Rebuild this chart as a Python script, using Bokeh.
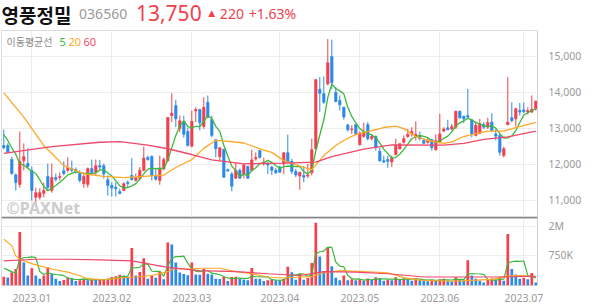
from bokeh.plotting import figure
from bokeh.layouts import column
from bokeh.models import (ColumnDataSource, FixedTicker, NumeralTickFormatter, Range1d,
                          Span, Label)
from bokeh.embed import file_html
from bokeh.resources import INLINE
from bokeh.core.properties import value

# ---------------- data ----------------
stock_name = "영풍정밀"
stock_code = "036560"
last_price = "13,750"
change_txt = "220"
change_pct = "+1.63%"

month_ticks = [7, 27, 47, 69, 89, 109, 130]
month_labels = ["2023.01", "2023.02", "2023.03", "2023.04", "2023.05", "2023.06", "2023.07"]

opens = [12520, 12520, 12130, 11710, 11440, 12100, 12020, 11830, 11080, 11080,
         11190, 11660, 11270, 11630, 11630, 11820, 11830, 11880, 11850, 11740,
         11460, 11440, 11880, 11780, 11960, 11960, 11570, 11410, 11360, 11240,
         11270, 11500, 11690, 11550, 11600, 11830, 12190, 12220, 11680, 11550,
         11870, 12100, 13350, 13630, 12990, 13190, 12910, 12500, 13480, 13520,
         13050, 13720, 13240, 12680, 12210, 12410, 11850, 11730, 11610, 11830,
         11730, 11940, 11830, 12150, 12380, 12010, 12010, 11920, 11830, 11920,
         12010, 12320, 12080, 11800, 11670, 11690, 11670, 11760, 12430, 14080,
         13960, 14230, 14990, 14000, 13770, 13580, 13090, 12960, 13100, 12540,
         12770, 13100, 12710, 12770, 12360, 12100, 12130, 12060, 12270, 12430,
         12610, 12770, 12840, 12770, 12770, 12660, 12610, 12680, 12400, 12610,
         12920, 13010, 12980, 13030, 13470, 13330, 13350, 13230, 12800, 12860,
         13100, 13030, 13170, 12840, 12800, 12240, 13100, 13290, 13260, 13490,
         13510, 13450, 13450, 13540]
highs = [12960, 12580, 12210, 11740, 12910, 12580, 12440, 11940, 11350, 11330,
         11490, 12020, 12020, 11740, 11770, 12080, 12190, 12100, 11910, 11830,
         11740, 11910, 12130, 12130, 12120, 12020, 11690, 11500, 11500, 11320,
         11500, 11550, 12170, 11740, 11920, 12490, 12240, 12240, 11870, 12240,
         12190, 13310, 13970, 13790, 13350, 13350, 13020, 13490, 13580, 13540,
         13860, 13910, 13350, 12690, 12470, 12430, 11880, 11780, 12060, 11880,
         12000, 11960, 12400, 12330, 12400, 12180, 12060, 11960, 11890, 11960,
         12330, 12820, 12150, 11870, 11780, 11950, 12010, 12710, 14370, 14420,
         14440, 15480, 15460, 14140, 13910, 13600, 13120, 13080, 13100, 12910,
         13150, 13170, 12830, 12800, 12460, 12240, 12240, 12240, 12710, 12580,
         12800, 12980, 13030, 13190, 12910, 12720, 12750, 12710, 12830, 13400,
         13030, 13230, 13120, 13490, 13490, 13350, 14090, 13260, 13190, 13260,
         13170, 13290, 13420, 12980, 12830, 12490, 14420, 13720, 13570, 13700,
         13720, 13580, 13910, 13770]
lows = [12410, 12300, 11710, 11270, 11350, 11830, 11880, 10990, 10900, 11020,
        11080, 11270, 11210, 11520, 11550, 11690, 11770, 11770, 11740, 11490,
        11350, 11350, 11700, 11690, 11830, 11600, 11130, 11100, 11100, 11160,
        11250, 11340, 11550, 11520, 11550, 11800, 12100, 11550, 11550, 11430,
        11830, 12060, 13170, 13030, 12890, 12740, 12490, 12470, 13170, 12940,
        12980, 13310, 12750, 12190, 12100, 11620, 11800, 11250, 11590, 11600,
        11610, 11600, 11800, 12100, 12160, 11960, 11730, 11700, 11730, 11760,
        11730, 12020, 11730, 11640, 11290, 11500, 11610, 11690, 12410, 13450,
        13680, 14190, 14090, 13720, 13490, 13240, 12910, 12840, 12800, 12520,
        12740, 12660, 12660, 12380, 12060, 12030, 11900, 11920, 12240, 12400,
        12570, 12730, 12770, 12660, 12660, 12570, 12570, 12380, 12380, 12580,
        12890, 12940, 12940, 12980, 13260, 13140, 13260, 12750, 12770, 12830,
        12980, 12980, 12890, 12660, 12240, 12190, 13080, 13170, 13050, 13350,
        13420, 13380, 13420, 13490]
closes = [12460, 12330, 11740, 11490, 12080, 12210, 11940, 11270, 11210, 11210,
          11270, 11350, 11630, 11580, 11660, 11740, 11910, 11830, 11800, 11550,
          11660, 11880, 11760, 11960, 11920, 11730, 11410, 11340, 11320, 11190,
          11460, 11460, 11570, 11620, 11830, 12170, 12130, 11690, 11580, 11870,
          12130, 13300, 13420, 13260, 13210, 12830, 12520, 13190, 13520, 13150,
          13580, 13300, 12800, 12430, 12460, 11640, 11810, 11390, 11830, 11610,
          11980, 11610, 12120, 12190, 12190, 12060, 11980, 11830, 11760, 11780,
          12320, 12060, 11800, 11700, 11780, 11640, 11700, 12400, 14350, 13970,
          13720, 14820, 14260, 13740, 13650, 13310, 12960, 12980, 12830, 12870,
          12890, 12710, 12770, 12460, 12100, 12060, 12080, 12170, 12520, 12570,
          12710, 12830, 12910, 12830, 12710, 12580, 12660, 12460, 12660, 12840,
          12980, 12960, 13050, 13470, 13290, 13260, 13310, 12830, 13080, 13120,
          13030, 13160, 12940, 12780, 12330, 12430, 13170, 13210, 13540, 13450,
          13460, 13490, 13530, 13750]
volumes = [365, 357, 426, 474, 1640, 591, 381, 486, 381, 342,
           381, 501, 404, 342, 317, 328, 357, 346, 317, 324,
           342, 325, 330, 328, 332, 336, 340, 362, 370, 390,
           380, 365, 960, 380, 430, 680, 340, 381, 354, 437,
           335, 1160, 1085, 591, 420, 400, 385, 591, 394, 391,
           474, 404, 394, 342, 338, 362, 317, 362, 365, 342,
           330, 324, 490, 342, 340, 317, 324, 330, 325, 320,
           340, 512, 426, 330, 404, 330, 350, 580, 2250, 720,
           435, 970, 520, 354, 324, 381, 324, 335, 324, 330,
           320, 345, 330, 360, 350, 320, 330, 325, 360, 330,
           345, 335, 320, 350, 330, 320, 315, 330, 325, 335,
           340, 320, 315, 360, 335, 325, 637, 381, 340, 320,
           300, 330, 345, 330, 360, 320, 1540, 474, 393, 342,
           350, 335, 414, 300]  # thousands of shares

# moving-average lines
ma5_head = [12820, 12660, 12450, 12280]
ma20_idx = [0, 5, 10, 15, 20, 25, 30, 35, 40, 43, 45, 47, 50, 53, 55, 60, 65, 67, 70, 75,
            77, 80, 83, 85, 88, 90, 95, 98, 100, 103, 106, 110, 112, 115, 118, 121, 125, 128, 133]
ma20_val = [13980, 13310, 12520, 11960, 11730, 11660, 11630, 11660, 11700, 11910, 12020, 12130,
            12440, 12660, 12650, 12590, 12390, 12330, 12100, 11910, 11850, 12240, 12520, 12660,
            12830, 12880, 13020, 13060, 12990, 12770, 12660, 12580, 12620, 12770, 12850, 12920,
            12920, 13020, 13160]
ma60_idx = [0, 12, 24, 29, 36, 41, 47, 52, 60, 70, 78, 82, 90, 97, 110, 115, 120, 126, 133]
ma60_val = [12300, 12490, 12610, 12630, 12530, 12430, 12270, 12120, 12010, 12030, 12060,
            12210, 12420, 12540, 12530, 12580, 12690, 12760, 12920]

vma5_head = [486, 460, 430, 418]
vma20_idx = [0, 2, 3, 4, 7, 12, 16, 19, 21, 25, 30, 33, 37, 41, 43, 46, 50, 54, 58, 62, 66,
             70, 74, 77, 80, 84, 90, 96, 100, 104, 112, 117, 122, 127, 130, 133]
vma20_val = [1290, 1040, 737, 658, 569, 474, 426, 377, 342, 330, 354, 362, 381, 435, 483, 474,
             486, 486, 435, 404, 362, 350, 362, 366, 418, 448, 435, 418, 354, 326, 314, 324,
             335, 381, 381, 362]
vma60_idx = [0, 8, 16, 24, 32, 41, 49, 58, 66, 74, 80, 88, 96, 105, 113, 122, 133]
vma60_val = [622, 658, 658, 645, 622, 501, 449, 435, 404, 381, 435, 426, 404, 362, 362, 362, 370]

# ---------------- styling ----------------
RED = "#f2404c"
BLUE = "#2b8ae8"
GREEN = "#3cb83c"
ORANGE = "#ffa726"
PINK = "#f0476a"
GRID = "#ececec"
TXT = "#9a9a9a"
FONT = "Noto Sans"
KFONT = "Noto Sans CJK KR"

n = len(closes)
xs = list(range(n))
x_lo, x_hi = -0.575, 133.425

candle_col = [RED if c >= o else BLUE for o, c in zip(opens, closes)]
body_top = [max(o, c) for o, c in zip(opens, closes)]
body_bot = [min(o, c) for o, c in zip(opens, closes)]
ma5 = ma5_head + [sum(closes[i - 4:i + 1]) / 5 for i in range(4, n)]

vol = [v * 1000 for v in volumes]
vol_col = [RED] + [RED if vol[i] >= vol[i - 1] else BLUE for i in range(1, n)]
vma5 = [v * 1000 for v in vma5_head] + [sum(vol[i - 4:i + 1]) / 5 for i in range(4, n)]

# ---------------- header ----------------
h = figure(width=594, height=30, x_range=Range1d(0, 594), y_range=Range1d(0, 30),
           output_backend="svg", toolbar_location=None, min_border=0)
h.axis.visible = False
h.grid.visible = False
h.outline_line_color = None
h.text(x=[0], y=[16.5], text=[stock_name], text_font=value(KFONT), text_font_size="19px",
       text_font_style="bold", text_color="#111111", text_baseline="middle")
h.text(x=[86], y=[17], text=[stock_code], text_font=value(FONT), text_font_size="14px",
       text_color="#9a9a9a", text_baseline="middle")
h.text(x=[149], y=[17.5], text=[last_price], text_font=value(FONT), text_font_size="21px",
       text_color=RED, text_baseline="middle")
h.text(x=[229], y=[18], text=["▲"], text_font=value("DejaVu Sans"), text_font_size="9px",
       text_color=RED, text_baseline="middle")
h.text(x=[242], y=[17], text=[change_txt], text_font=value(FONT), text_font_size="14px",
       text_color=RED, text_baseline="middle")
h.text(x=[274], y=[17], text=[change_pct], text_font=value(FONT), text_font_size="14px",
       text_color=RED, text_baseline="middle")

# ---------------- price panel ----------------
p = figure(width=594, height=187, x_range=Range1d(x_lo, x_hi), y_range=Range1d(10520, 15715),
           output_backend="svg", toolbar_location=None, y_axis_location="right",
           min_border_left=1, min_border_right=57, min_border_top=0, min_border_bottom=0)
p.outline_line_color = "#dcdcdc"
p.xaxis.visible = False
p.xgrid.ticker = FixedTicker(ticks=month_ticks)
p.xgrid.grid_line_color = GRID
p.ygrid.grid_line_color = GRID
p.yaxis.ticker = FixedTicker(ticks=[11000, 12000, 13000, 14000, 15000])
p.yaxis.formatter = NumeralTickFormatter(format="0,0")
p.yaxis.major_tick_line_color = None
p.yaxis.minor_tick_line_color = None
p.yaxis.axis_line_color = "#cfcfcf"
p.yaxis.major_label_text_color = TXT
p.yaxis.major_label_text_font = FONT
p.yaxis.major_label_text_font_size = "10.5px"
p.yaxis.major_label_standoff = 5

src = ColumnDataSource(dict(x=xs, lo=lows, hi=highs, top=body_top, bot=body_bot, col=candle_col))
p.segment(x0="x", y0="lo", x1="x", y1="hi", color="col", line_width=1, source=src)
p.vbar(x="x", width=0.62, top="top", bottom="bot", fill_color="col", line_color="col",
       line_width=0.6, source=src)
p.line(xs, ma5, color=GREEN, line_width=1.3)
p.line(ma20_idx, ma20_val, color=ORANGE, line_width=1.3)
p.line(ma60_idx, ma60_val, color=PINK, line_width=1.3)

p.add_layout(Label(x=5, y=176, x_units="screen", y_units="screen", text="이동평균선",
                   text_font=KFONT, text_font_size="10px", text_color="#8a8a8a",
                   text_baseline="middle"))
p.add_layout(Label(x=58, y=176, x_units="screen", y_units="screen", text="5",
                   text_font=FONT, text_font_size="11px", text_color=GREEN, text_baseline="middle"))
p.add_layout(Label(x=67, y=176, x_units="screen", y_units="screen", text="20",
                   text_font=FONT, text_font_size="11px", text_color=ORANGE, text_baseline="middle"))
p.add_layout(Label(x=82, y=176, x_units="screen", y_units="screen", text="60",
                   text_font=FONT, text_font_size="11px", text_color=PINK, text_baseline="middle"))
p.add_layout(Label(x=5, y=10, x_units="screen", y_units="screen", text="©PAXNet",
                   text_font=FONT, text_font_size="16px", text_font_style="bold",
                   text_color="#cccccc", text_baseline="middle"))

# ---------------- volume panel ----------------
VMIN, VMAX = 272000, 2680000
v = figure(width=594, height=87, x_range=p.x_range, y_range=Range1d(VMIN, VMAX),
           y_axis_type="log", output_backend="svg", toolbar_location=None,
           y_axis_location="right", min_border_left=1, min_border_right=57,
           min_border_top=0, min_border_bottom=17)
v.outline_line_color = "#dcdcdc"
v.add_layout(Span(location=VMAX, dimension="width", line_color="#333333", line_width=1.5))
v.xaxis.ticker = FixedTicker(ticks=month_ticks)
v.xaxis.major_label_overrides = {t: lab for t, lab in zip(month_ticks, month_labels)}
v.xaxis.major_tick_line_color = None
v.xaxis.minor_tick_line_color = None
v.xaxis.axis_line_color = None
v.xaxis.major_label_text_color = TXT
v.xaxis.major_label_text_font = FONT
v.xaxis.major_label_text_font_size = "10.5px"
v.xaxis.major_label_standoff = 2
v.xgrid.grid_line_color = GRID
v.ygrid.grid_line_color = GRID
v.yaxis.ticker = FixedTicker(ticks=[750000, 2000000])
v.yaxis.major_label_overrides = {750000: "750K", 2000000: "2M"}
v.yaxis.major_tick_line_color = None
v.yaxis.minor_tick_line_color = None
v.yaxis.axis_line_color = "#cfcfcf"
v.yaxis.major_label_text_color = TXT
v.yaxis.major_label_text_font = FONT
v.yaxis.major_label_text_font_size = "10.5px"
v.yaxis.major_label_standoff = 5

vsrc = ColumnDataSource(dict(x=xs, top=vol, col=vol_col))
v.vbar(x="x", width=0.68, top="top", bottom=VMIN, fill_color="col", line_color=None, source=vsrc)
v.line(xs, vma5, color=GREEN, line_width=1.2)
v.line(vma20_idx, [t * 1000 for t in vma20_val], color=ORANGE, line_width=1.2)
v.line(vma60_idx, [t * 1000 for t in vma60_val], color=PINK, line_width=1.2)

layout = column(h, p, v, spacing=0)
open("out.html", "w").write(file_html(layout, INLINE))
